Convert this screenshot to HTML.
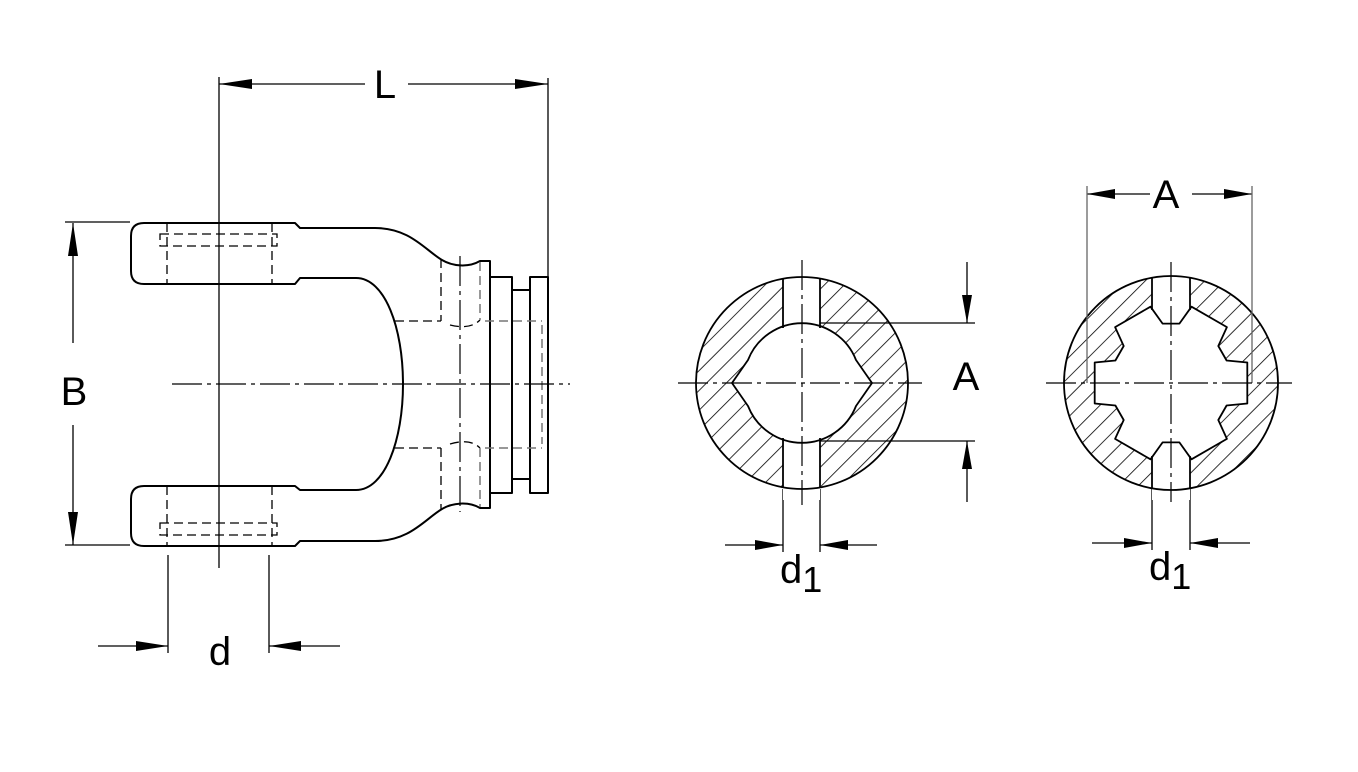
<!DOCTYPE html>
<html><head><meta charset="utf-8"><style>html,body{margin:0;padding:0;background:#fff;}svg{display:block}</style></head>
<body>
<svg width="1358" height="772" viewBox="0 0 1358 772" xmlns="http://www.w3.org/2000/svg" font-family="Liberation Sans, sans-serif">
<defs>
<pattern id="h" width="14" height="14" patternUnits="userSpaceOnUse" patternTransform="rotate(45)">
<line x1="0" y1="0" x2="0" y2="14" stroke="#000" stroke-width="1.6"/>
</pattern>
</defs>
<rect width="1358" height="772" fill="#fff"/>
<g fill="none" stroke="#000" stroke-width="2" stroke-linejoin="round">
<path d="M144,223 L295,223 L300,228 L375,228 C410,228 425,250 442,260 C452,266 468,268 480,261 L490,261 L490,508 L480,508 C468,501 452,503 442,509 C425,519 410,541 375,541 L300,541 L295,546 L144,546 Q131,546 131,533 L131,499 Q131,486 144,486 L295,486 L300,490 L356,490 C385,490 403,440 403,384 C403,328 385,278 356,278 L300,278 L295,284 L144,284 Q131,284 131,271 L131,236 Q131,223 144,223 Z"/>
<rect x="490" y="277" width="22" height="216"/>
<rect x="512" y="290" width="18" height="189"/>
<rect x="530" y="277" width="18" height="216"/>
</g>
<g fill="none" stroke="#000" stroke-width="1.3" stroke-dasharray="9,5">
<line x1="167" y1="223" x2="167" y2="284"/><line x1="272" y1="223" x2="272" y2="284"/>
<rect x="160" y="234" width="117" height="12"/>
<line x1="167" y1="486" x2="167" y2="546"/><line x1="272" y1="486" x2="272" y2="546"/>
<rect x="160" y="523" width="117" height="12"/>
<line x1="395" y1="321" x2="441" y2="321"/><line x1="441" y1="259" x2="441" y2="321"/>
<line x1="395" y1="448" x2="441" y2="448"/><line x1="441" y1="448" x2="441" y2="509"/>
<path d="M450,325 Q470,330 480,320" />
<path d="M450,444 Q470,438 480,448" />
</g>
<g fill="none" stroke="#777" stroke-width="1.5" stroke-dasharray="9,5">
<line x1="480" y1="262" x2="480" y2="320"/><line x1="480" y1="448" x2="480" y2="507"/>
<line x1="485" y1="321" x2="542" y2="321"/><line x1="485" y1="448" x2="542" y2="448"/>
<line x1="542" y1="325" x2="542" y2="444"/>
</g>
<g stroke="#000" stroke-width="1.3" fill="none">
<line x1="219" y1="77" x2="219" y2="568"/>
<line x1="548" y1="78" x2="548" y2="277"/>
<line x1="219" y1="84" x2="365" y2="84"/><line x1="408" y1="84" x2="548" y2="84"/>
<line x1="65" y1="222" x2="130" y2="222"/><line x1="65" y1="545" x2="130" y2="545"/>
<line x1="73" y1="223" x2="73" y2="343"/><line x1="73" y1="425" x2="73" y2="545"/>
<line x1="168" y1="555" x2="168" y2="653"/><line x1="269" y1="555" x2="269" y2="653"/>
<line x1="98" y1="646" x2="168" y2="646"/><line x1="269" y1="646" x2="340" y2="646"/>
<line x1="802" y1="323" x2="975" y2="323"/><line x1="802" y1="441" x2="975" y2="441"/>
<line x1="967" y1="262" x2="967" y2="323"/><line x1="967" y1="441" x2="967" y2="502"/>
<line x1="783" y1="489" x2="783" y2="552"/><line x1="820" y1="489" x2="820" y2="552"/>
<line x1="725" y1="545" x2="783" y2="545"/><line x1="820" y1="545" x2="877" y2="545"/>
<line x1="1152" y1="489" x2="1152" y2="550"/><line x1="1190" y1="489" x2="1190" y2="550"/>
<line x1="1092" y1="543" x2="1152" y2="543"/><line x1="1190" y1="543" x2="1250" y2="543"/>
<line x1="1087" y1="194" x2="1150" y2="194"/><line x1="1192" y1="194" x2="1252" y2="194"/>
</g>
<g fill="#000">
<polygon points="219,84 252,79 252,89"/><polygon points="548,84 515,79 515,89"/>
<polygon points="73,223 68,256 78,256"/><polygon points="73,545 68,512 78,512"/>
<polygon points="168,646 136,641 136,651"/><polygon points="269,646 301,641 301,651"/>
<polygon points="967,323 962,295 972,295"/><polygon points="967,441 962,469 972,469"/>
<polygon points="783,545 755,540 755,550"/><polygon points="820,545 848,540 848,550"/>
<polygon points="1087,194 1115,189 1115,199"/><polygon points="1252,194 1224,189 1224,199"/>
<polygon points="1152,543 1124,538 1124,548"/><polygon points="1190,543 1218,538 1218,548"/>
</g>
<circle cx="802" cy="383" r="106" fill="url(#h)" stroke="none"/>
<rect x="783" y="270" width="37" height="230" fill="#fff"/>
<path d="M748,360 L732,383 L748,406 A58,58 0 0 0 856,406 L872,383 L856,360 A58,58 0 0 0 748,360 Z" fill="#fff" stroke="#000" stroke-width="1.8"/>
<circle cx="802" cy="383" r="106" fill="none" stroke="#000" stroke-width="1.8"/>
<g stroke="#000" stroke-width="1.8"><line x1="783" y1="278" x2="783" y2="328"/><line x1="820" y1="278" x2="820" y2="328"/><line x1="783" y1="438" x2="783" y2="488"/><line x1="820" y1="438" x2="820" y2="488"/></g>
<circle cx="1171" cy="383" r="107" fill="url(#h)" stroke="none"/>
<rect x="1152" y="270" width="38" height="230" fill="#fff"/>
<polygon points="1226.6,405.5 1247.3,403.5 1247.3,362.5 1226.6,360.5 1218.3,346 1226.9,327.1 1191.5,306.7 1179.4,323.6 1162.6,323.6 1150.5,306.7 1115.1,327.1 1123.7,346 1115.4,360.5 1094.7,362.5 1094.7,403.5 1115.4,405.5 1123.7,420 1115.1,438.9 1150.5,459.3 1162.6,442.4 1179.4,442.4 1191.5,459.3 1226.9,438.9 1218.3,420" fill="#fff" stroke="#000" stroke-width="1.8" stroke-linejoin="round"/>
<circle cx="1171" cy="383" r="107" fill="none" stroke="#000" stroke-width="1.8"/>
<g stroke="#000" stroke-width="1.8"><line x1="1152" y1="277" x2="1152" y2="310"/><line x1="1190" y1="277" x2="1190" y2="310"/><line x1="1152" y1="456" x2="1152" y2="489"/><line x1="1190" y1="456" x2="1190" y2="489"/></g>
<g stroke="#666" stroke-width="1.3"><line x1="1087" y1="186" x2="1087" y2="383"/><line x1="1252" y1="186" x2="1252" y2="383"/></g>
<g stroke="#000" stroke-width="1.2" fill="none" stroke-dasharray="30,5,4,5">
<line x1="172" y1="384" x2="570" y2="384"/>
<line x1="460" y1="256" x2="460" y2="512"/>
<line x1="678" y1="383" x2="922" y2="383"/>
<line x1="802" y1="260" x2="802" y2="505"/>
<line x1="1046" y1="383" x2="1292" y2="383"/>
<line x1="1171" y1="262" x2="1171" y2="502"/>
</g>
<g fill="#000" font-size="40">
<text x="385" y="98" text-anchor="middle">L</text>
<text x="74" y="405" text-anchor="middle">B</text>
<text x="220" y="665" text-anchor="middle">d</text>
<text x="966" y="390" text-anchor="middle">A</text>
<text x="1166" y="208" text-anchor="middle">A</text>
<text x="780" y="583">d<tspan font-size="36" dy="9">1</tspan></text>
<text x="1149" y="580">d<tspan font-size="36" dy="9">1</tspan></text>
</g>
</svg>
</body></html>
